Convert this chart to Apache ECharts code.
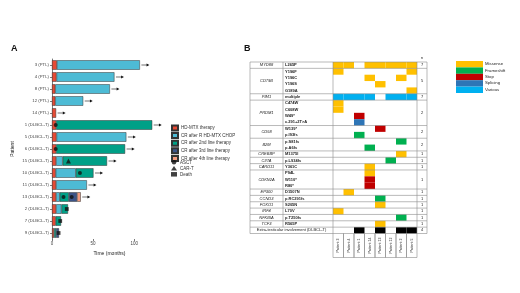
<!DOCTYPE html>
<html>
<head>
<meta charset="utf-8">
<script src="https://cdn.jsdelivr.net/npm/echarts@6/dist/echarts.min.js"></script>
<style>
  html, body { margin: 0; padding: 0; background: #fff; }
  #chart { width: 520px; height: 293px; }
</style>
</head>
<body>
<div id="chart"></div>
<script>
// ---- panel A : swimmer plot (months) ----
const patientsA = ['3 (PTL)', '4 (PTL)', '8 (PTL)', '12 (PTL)', '14 (PTL)', '1 (DLBCL-T)', '5 (DLBCL-T)', '6 (DLBCL-T)',
  '15 (DLBCL-T)', '10 (DLBCL-T)', '11 (DLBCL-T)', '13 (DLBCL-T)', '2 (DLBCL-T)', '7 (DLBCL-T)', '9 (DLBCL-T)']
const hdMtx   = [6, 5.5, 4, 4, 5, 5, 5.5, 5, 5, 4.5, 5, 5, 5, 4.5, 2.5]
const crRChop = [101, 70.5, 66.5, 34, '-', '-', 85, '-', 8, 24.5, 37.5, 4.5, 6.5, '-', '-']
const cr2nd   = ['-', '-', '-', '-', '-', 117, '-', 84, 54, 21.5, '-', 11, 8, 6.5, 2.5]
const cr3rd   = ['-', '-', '-', '-', '-', '-', '-', '-', '-', '-', '-', 10, '-', '-', 3.5]
const cr4th   = ['-', '-', '-', '-', '-', '-', '-', '-', '-', '-', '-', 4.5, '-', '-', '-']
const ongoing = [1, 1, 1, 1, 1, 1, 1, 1, 1, 1, 1, 1, 0, 0, 0]
const asct  = [[4.5, '1 (DLBCL-T)'], [4.5, '6 (DLBCL-T)'], [34, '10 (DLBCL-T)'], [14, '13 (DLBCL-T)'], [24, '13 (DLBCL-T)']]
const carT  = [[20, '15 (DLBCL-T)']]
const death = [[18, '2 (DLBCL-T)'], [10, '7 (DLBCL-T)'], [8, '9 (DLBCL-T)']]
const timeTicks = [0, 50, 100]
const phaseNames = ['HD-MTX therapy', 'CR after R HD-MTX CHOP', 'CR after 2nd line therapy', 'CR after 3rd line therapy', 'CR after 4th line therapy']
const phaseColors = ['#E64B35', '#4DBBD5', '#00A087', '#3C5488', '#F39B7F']

// ---- panel B : mutation table ----
const patientsB = ['Patient 3', 'Patient 4', 'Patient 1', 'Patient 14', 'Patient 13', 'Patient 12', 'Patient 2', 'Patient 5']
const genes = ['MYD88', 'CD79B', 'PIM1', 'PRDM1', 'CD58', 'B2M', 'CREBBP', 'CIITA', 'CARD11', 'CDKN2A', 'EP300', 'CCND3',
  'FOXO1', 'IRF4', 'NFKBIA', 'TCF3', 'Extra-testicular involvement (DLBCL-T)']
const geneRows = [1, 4, 1, 4, 2, 2, 1, 1, 1, 3, 1, 1, 1, 1, 1, 1, 1]
const geneN = [7, 5, 7, 2, 2, 2, 1, 1, 1, 1, 1, 1, 1, 1, 1, 1, 4]
const variants = ['L265P', 'Y196F', 'Y196C', 'Y196S', 'G189A', 'multiple', 'C474W', 'C608W', 'W49*', 'c.291+2T>A',
  'W139*', 'p.I93fs', 'p.S81fs', 'p.A6fs', 'M1375I', 'p.L934fs', 'Y361C', 'P94L', 'W110*', 'R80*', 'D1507N',
  'p.RC291fs', 'S205N', 'L70V', 'p.T250fs', 'R565P', '']
const mutTypes = ['Missense', 'Frameshift', 'Stop', 'Splicing', 'Various']
const mutColors = ['#FFC000', '#00B050', '#C00000', '#2E75B6', '#00B0F0', '#000000']
// [patient column, variant row, type] (type 5 = extra-testicular involvement)
const cells = [
  [0, 0, 0], [1, 0, 0], [3, 0, 0], [4, 0, 0], [5, 0, 0], [6, 0, 0], [7, 0, 0],
  [0, 1, 0], [7, 1, 0], [3, 2, 0], [6, 2, 0], [4, 3, 0], [7, 4, 0],
  [0, 5, 4], [1, 5, 4], [2, 5, 4], [3, 5, 4], [5, 5, 4], [6, 5, 4], [7, 5, 4],
  [0, 6, 0], [0, 7, 0], [2, 8, 2], [2, 9, 3],
  [4, 10, 2], [2, 11, 1], [6, 12, 1], [3, 13, 1],
  [6, 14, 0], [5, 15, 1], [3, 16, 0], [3, 17, 0], [3, 18, 2], [3, 19, 2],
  [1, 20, 0], [4, 21, 1], [4, 22, 0], [0, 23, 0], [6, 24, 1], [4, 25, 0],
  [2, 26, 5], [4, 26, 5], [6, 26, 5], [7, 26, 5]
]

const FONT = '"Liberation Sans", Arial, sans-serif'
const chart = echarts.init(document.getElementById('chart'), null, { renderer: 'canvas' })

// totals for the arrows of ongoing patients
const num = v => (v === '-' ? 0 : v)
const arrowData = []
patientsA.forEach((p, i) => {
  if (ongoing[i]) {
    arrowData.push([num(hdMtx[i]) + num(crRChop[i]) + num(cr2nd[i]) + num(cr3rd[i]) + num(cr4th[i]), i])
  }
})

// gene group start rows
const groupData = []
let r0 = 0
genes.forEach((g, i) => { groupData.push([0, r0, geneRows[i], i]); r0 += geneRows[i] })

const phaseSeries = [hdMtx, crRChop, cr2nd, cr3rd, cr4th].map((d, i) => ({
  name: phaseNames[i],
  type: 'bar',
  stack: 'time',
  xAxisIndex: 0,
  yAxisIndex: 0,
  barWidth: 9.5,
  data: d,
  itemStyle: { color: phaseColors[i], borderColor: '#333', borderWidth: 0.5 }
}))

const lineStyleB = { stroke: '#8c8c8c', lineWidth: 0.6 }

chart.setOption({
  animation: false,
  textStyle: { fontFamily: FONT },
  grid: [
    { left: 52, top: 59, width: 115, height: 180 },
    { left: 333, top: 62, width: 84, height: 171.5 }
  ],
  xAxis: [
    {
      gridIndex: 0, type: 'value', min: 0, max: 140, interval: 50,
      name: 'Time (months)', nameLocation: 'middle', nameGap: 7,
      nameTextStyle: { fontSize: 5, color: '#222' },
      axisLine: { lineStyle: { color: '#222', width: 0.6 } },
      axisTick: { show: true, length: 2, customValues: timeTicks, lineStyle: { color: '#222', width: 0.6 } },
      axisLabel: { fontSize: 4.5, color: '#444', margin: 2.5, customValues: timeTicks },
      splitLine: { show: false }
    },
    { gridIndex: 1, type: 'category', data: patientsB, show: false }
  ],
  yAxis: [
    {
      gridIndex: 0, type: 'category', data: patientsA, inverse: true,
      name: 'Patient', nameLocation: 'middle', nameGap: 37, nameRotate: 90,
      nameTextStyle: { fontSize: 5, color: '#222' },
      axisLine: { lineStyle: { color: '#222', width: 0.6 } },
      axisTick: { show: true, length: 2, alignWithLabel: true, lineStyle: { color: '#222', width: 0.6 } },
      axisLabel: { fontSize: 4.3, color: '#444', margin: 3 }
    },
    { gridIndex: 1, type: 'category', data: variants, inverse: true, show: false }
  ],
  legend: [
    {
      data: phaseNames, orient: 'vertical', left: 171, top: 124.5, icon: 'rect',
      itemWidth: 6, itemHeight: 5, itemGap: 0.6, padding: 0,
      textStyle: { fontSize: 4.5, color: '#333', padding: [0, 0, 0, -2] }
    },
    {
      data: ['ASCT', 'CAR-T', 'Death'], orient: 'vertical', left: 171, top: 159.8,
      itemWidth: 6, itemHeight: 4.5, itemGap: 1, padding: 0,
      textStyle: { fontSize: 4.5, color: '#333', padding: [0, 0, 0, -2] }
    }
  ],
  graphic: [
    { type: 'text', left: 11, top: 44, style: { text: 'A', font: 'bold 9px ' + FONT, fill: '#111' } },
    { type: 'text', left: 244, top: 44, style: { text: 'B', font: 'bold 9px ' + FONT, fill: '#111' } },
    ...mutTypes.map((t, i) => ({
      type: 'rect', left: 456, top: 61 + i * 6.4,
      shape: { width: 27, height: 6.4 }, style: { fill: mutColors[i] }
    })),
    ...mutTypes.map((t, i) => ({
      type: 'text', left: 485, top: 62 + i * 6.4,
      style: { text: t, font: '4.3px ' + FONT, fill: '#222' }
    }))
  ],
  series: [
    ...phaseSeries,
    {
      name: 'ASCT', type: 'scatter', xAxisIndex: 0, yAxisIndex: 0, data: asct,
      symbol: 'circle', symbolSize: 4, itemStyle: { color: '#111' }, z: 5
    },
    {
      name: 'CAR-T', type: 'scatter', xAxisIndex: 0, yAxisIndex: 0, data: carT,
      symbol: 'triangle', symbolSize: 5, itemStyle: { color: '#111' }, z: 5
    },
    {
      name: 'Death', type: 'scatter', xAxisIndex: 0, yAxisIndex: 0, data: death,
      symbol: 'rect', symbolSize: 3.8, itemStyle: { color: '#111' }, z: 5
    },
    {
      // follow-up arrows
      type: 'custom', xAxisIndex: 0, yAxisIndex: 0, data: arrowData,
      encode: { x: 0, y: 1 },
      renderItem: (params, api) => {
        const p = api.coord([api.value(0), api.value(1)])
        const x0 = p[0] + 1.5, x1 = p[0] + 9.5, y = p[1]
        return {
          type: 'group',
          children: [
            { type: 'line', shape: { x1: x0, y1: y, x2: x1 - 2, y2: y }, style: { stroke: '#111', lineWidth: 0.6 } },
            { type: 'polygon', shape: { points: [[x1, y], [x1 - 2.8, y - 1.4], [x1 - 2.8, y + 1.4]] }, style: { fill: '#111' } }
          ]
        }
      }
    },
    {
      // mutation cells
      type: 'custom', xAxisIndex: 1, yAxisIndex: 1, data: cells,
      encode: { x: 0, y: 1 },
      renderItem: (params, api) => {
        const p = api.coord([api.value(0), api.value(1)])
        const s = api.size([1, 1])
        return {
          type: 'rect',
          shape: { x: p[0] - s[0] / 2, y: p[1] - s[1] / 2, width: s[0], height: s[1] },
          style: { fill: mutColors[api.value(2)] }
        }
      }
    },
    {
      // table frame, gene names, variants and n
      type: 'custom', xAxisIndex: 1, yAxisIndex: 1, data: groupData, z: 3,
      encode: { x: 0, y: 1 },
      renderItem: (params, api) => {
        const start = api.value(1), count = api.value(2), gi = api.value(3)
        const s = api.size([1, 1])
        const p = api.coord([0, start])
        const gL = p[0] - s[0] / 2
        const gR = gL + s[0] * patientsB.length
        const top = p[1] - s[1] / 2
        const bottom = top + s[1] * count
        const tL = gL - 83, tM = gL - 50, tR = gR + 10
        const isExtra = gi === genes.length - 1
        const ch = []
        ch.push({ type: 'line', shape: { x1: tL, y1: top, x2: tR, y2: top }, style: lineStyleB })
        if (isExtra) ch.push({ type: 'line', shape: { x1: tL, y1: bottom, x2: tR, y2: bottom }, style: lineStyleB })
        const vx = isExtra ? [tL, gL, gR, tR] : [tL, tM, gL, gR, tR]
        vx.forEach(x => ch.push({ type: 'line', shape: { x1: x, y1: top, x2: x, y2: bottom }, style: lineStyleB }))
        const mid = (top + bottom) / 2
        ch.push({
          type: 'text', x: isExtra ? (tL + gL) / 2 : (tL + tM) / 2, y: mid,
          style: {
            text: genes[gi], fill: '#222', font: (isExtra ? '' : 'italic ') + '4px ' + FONT,
            align: 'center', verticalAlign: 'middle', textAlign: 'center', textVerticalAlign: 'middle'
          }
        })
        ch.push({
          type: 'text', x: (gR + tR) / 2, y: mid,
          style: {
            text: String(geneN[gi]), fill: '#222', font: '4px ' + FONT,
            align: 'center', verticalAlign: 'middle', textAlign: 'center', textVerticalAlign: 'middle'
          }
        })
        if (!isExtra) {
          for (let k = 0; k < count; k++) {
            ch.push({
              type: 'text', x: tM + 2, y: top + (k + 0.5) * s[1],
              style: {
                text: variants[start + k], fill: '#222', font: 'bold 4px ' + FONT,
                align: 'left', verticalAlign: 'middle', textAlign: 'left', textVerticalAlign: 'middle'
              }
            })
          }
        }
        if (gi === 0) {
          ch.push({
            type: 'text', x: (gR + tR) / 2, y: top - 4,
            style: {
              text: 'n', fill: '#222', font: '4px ' + FONT,
              align: 'center', verticalAlign: 'middle', textAlign: 'center', textVerticalAlign: 'middle'
            }
          })
        }
        return { type: 'group', children: ch }
      }
    },
    {
      // patient label boxes under the table
      type: 'custom', xAxisIndex: 1, yAxisIndex: 1, z: 3,
      data: patientsB.map((p, i) => [i, variants.length - 1]),
      encode: { x: 0, y: 1 },
      renderItem: (params, api) => {
        const s = api.size([1, 1])
        const p = api.coord([api.value(0), api.value(1)])
        const x0 = p[0] - s[0] / 2, x1 = p[0] + s[0] / 2
        const y0 = p[1] + s[1] / 2, y1 = y0 + 24
        return {
          type: 'group',
          children: [
            { type: 'line', shape: { x1: x0, y1: y0, x2: x0, y2: y1 }, style: lineStyleB },
            { type: 'line', shape: { x1: x1, y1: y0, x2: x1, y2: y1 }, style: lineStyleB },
            { type: 'line', shape: { x1: x0, y1: y1, x2: x1, y2: y1 }, style: lineStyleB },
            {
              type: 'text', x: p[0], y: (y0 + y1) / 2, rotation: Math.PI / 2,
              style: {
                text: patientsB[api.value(0)], fill: '#222', font: '3.6px ' + FONT,
                align: 'center', verticalAlign: 'middle', textAlign: 'center', textVerticalAlign: 'middle'
              }
            }
          ]
        }
      }
    }
  ]
})
</script>
</body>
</html>
